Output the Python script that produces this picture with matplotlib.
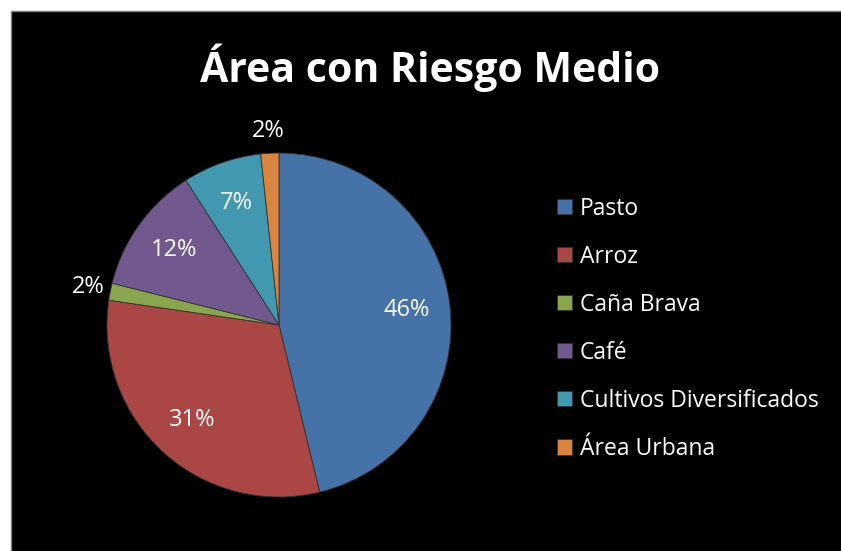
import matplotlib.pyplot as plt
import numpy as np
from matplotlib.patches import Rectangle

# datos
categorias = ['Pasto', 'Arroz', 'Caña Brava', 'Café', 'Cultivos Diversificados', 'Área Urbana']
porcentajes = [46.2, 31.1, 1.6, 12.0, 7.4, 1.7]
colores = ['#4572A7', '#AA4643', '#89A54E', '#71588F', '#4198AF', '#DB843D']
titulo = 'Área con Riesgo Medio'

plt.rcParams['font.family'] = ['Open Sans', 'DejaVu Sans']

W, H = 841, 551
fig = plt.figure(figsize=(W / 100, H / 100), dpi=100, facecolor='white')

# fondo negro del área del gráfico (se sale por la derecha y abajo)
fig.patches.append(Rectangle((11 / W, -0.05), 1.1, 1.05 - 11 / H, transform=fig.transFigure,
                             facecolor='black', edgecolor='#808080', linewidth=1, zorder=-1))

# ejes del pastel: centro (279, 325), radio 172 px
cx, cy, r = 279, 325, 172
ax = fig.add_axes([(cx - r) / W, (H - cy - r) / H, 2 * r / W, 2 * r / H])
ax.set_facecolor('none')

wedges, textos, autotextos = ax.pie(
    porcentajes, colors=colores, startangle=90, counterclock=False,
    autopct='%1.0f%%', pctdistance=0.75, radius=1,
    wedgeprops=dict(edgecolor='#333333', linewidth=0.6),
    textprops=dict(color='white', fontsize=17))

# etiquetas de porciones pequeñas fuera del pastel
for w, t, p in zip(wedges, autotextos, porcentajes):
    if p < 3:
        ang = np.deg2rad((w.theta1 + w.theta2) / 2)
        t.set_position((1.13 * np.cos(ang), 1.13 * np.sin(ang)))

ax.set_xlim(-1, 1)
ax.set_ylim(-1, 1)
ax.set_aspect('equal')

fig.text(430 / W, 1 - 68 / H, titulo, color='white', fontsize=29.5, fontweight='bold',
         ha='center', va='center')

leg = fig.legend(wedges, categorias, loc='upper left', bbox_to_anchor=(536 / W, 1 - 176 / H),
                 frameon=False, fontsize=16.5, labelcolor='white',
                 handlelength=0.65, handleheight=0.65, handletextpad=0.35,
                 labelspacing=1.05)

fig.savefig('out.png', dpi=100, facecolor='white')
